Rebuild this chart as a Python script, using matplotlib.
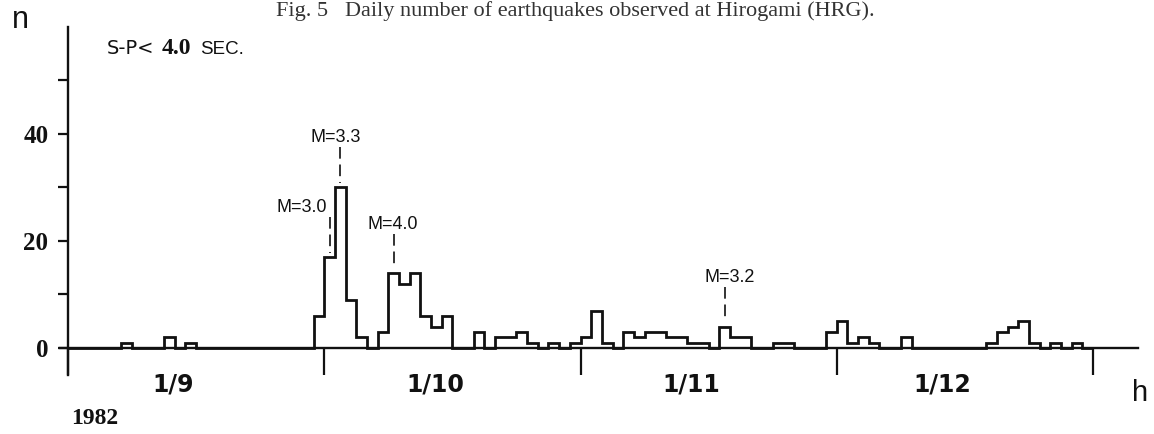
import numpy as np
import matplotlib
matplotlib.use("Agg")
import matplotlib.pyplot as plt

# ---------------- data ----------------
# daily (bin) counts, 96 bins from 1 Sep to end of Dec 1982
counts = [0, 0, 0, 0, 0, 1, 0, 0, 0, 2,
          0, 1, 0, 0, 0, 0, 0, 0, 0, 0,
          0, 0, 0, 6, 17, 30, 9, 2, 0, 3,
          14, 12, 14, 6, 4, 6, 0, 0, 3, 0,
          2, 2, 3, 1, 0, 1, 0, 1, 2, 7,
          1, 0, 3, 2, 3, 3, 2, 2, 1, 1,
          0, 4, 2, 2, 0, 0, 1, 1, 0, 0,
          0, 3, 5, 1, 2, 1, 0, 0, 2, 0,
          0, 0, 0, 0, 0, 0, 1, 3, 4, 5,
          1, 0, 1, 0, 1, 0]
month_ticks = [0, 24, 48, 72, 96]
month_labels = ["1/9", "1/10", "1/11", "1/12"]
ytick_values = [0, 10, 20, 30, 40, 50]
ytick_labels = ["0", "", "20", "", "40", ""]
quake_labels = ["M=3.0", "M=3.3", "M=4.0", "M=3.2"]
quake_bins = [24, 25, 30, 61]
year_label = "1982"
title = "Fig. 5   Daily number of earthquakes observed at Hirogami (HRG)."

# ---------------- layout ----------------
W, H = 1154, 434
fig = plt.figure(figsize=(W / 100, H / 100), dpi=100)
fig.patch.set_facecolor("white")

def fx(px):
    return px / W

def fy(py):
    return 1 - py / H

ax = fig.add_axes([fx(50), 54 / H, 1090 / W, 360 / H])
ax.set_xlim(-1.686, 100.40)
ax.set_ylim(-5.98, 61.3)
ax.patch.set_alpha(0)

ink = "#111111"
edges = np.arange(len(counts) + 1)
ax.stairs(counts, edges, baseline=0, fill=False, color=ink, lw=2.0)

for s in ["top", "right"]:
    ax.spines[s].set_visible(False)
ax.spines["left"].set_position(("data", 0))
ax.spines["bottom"].set_position(("data", 0))
ax.spines["left"].set_bounds(-5, 60)
ax.spines["bottom"].set_bounds(-0.75, 100.2)
for s in ["left", "bottom"]:
    ax.spines[s].set_linewidth(1.7)
    ax.spines[s].set_color(ink)

ax.set_xticks(month_ticks)
ax.set_xticklabels([""] * len(month_ticks))
ax.tick_params(axis="x", direction="out", length=19.5, width=1.6, color=ink)
ax.set_yticks(ytick_values)
ax.set_yticklabels(ytick_labels, fontfamily="Liberation Serif",
                   fontweight="bold", fontsize=18, color=ink)
ax.tick_params(axis="y", direction="out", length=7.2, width=1.6,
               color=ink, pad=7)

# month labels (between ticks)
label_pos = [9.8, 34.4, 58.4, 81.9]
for p, lab in zip(label_pos, month_labels):
    ax.text(p, -6.9, lab, ha="center", va="center", fontsize=17,
            fontweight="bold", family="DejaVu Sans", color=ink, clip_on=False)

# magnitude annotations
text_pos = [(21.9, 26.2), (25.1, 39.25), (30.4, 23.0), (62.0, 13.1)]
for lab, b, (tx, ty) in zip(quake_labels, quake_bins, text_pos):
    ax.text(tx, ty, lab, ha="center", va="center", fontsize=13,
            family="Liberation Sans", color=ink)
    xc = b + 0.5
    ax.plot([xc, xc], [ty - 1.7, counts[b] + 0.8], color=ink, lw=1.2,
            linestyle=(0, (7, 3.5)))

# other texts
fig.text(fx(107), fy(49), "S-P<", ha="left", va="center", fontsize=14,
         family="DejaVu Sans", color=ink)
fig.text(fx(162), fy(48), "4.0", ha="left", va="center", fontsize=17,
         family="Liberation Serif", fontweight="bold", color=ink)
fig.text(fx(200), fy(49), "SEC.", ha="left", va="center", fontsize=13.5,
         family="Liberation Sans", color=ink)
fig.text(fx(20), fy(20), "n", ha="center", va="center", fontsize=22,
         family="Liberation Sans", color=ink)
fig.text(fx(1140), fy(393), "h", ha="center", va="center", fontsize=21,
         family="Liberation Sans", color=ink)
fig.text(fx(95), fy(418), year_label, ha="center", va="center", fontsize=17,
         family="Liberation Serif", fontweight="bold", color=ink)
fig.text(fx(575), fy(16), title, ha="center", va="baseline", fontsize=16,
         family="Liberation Serif", color="#333333")

fig.savefig("out.png", dpi=100)
